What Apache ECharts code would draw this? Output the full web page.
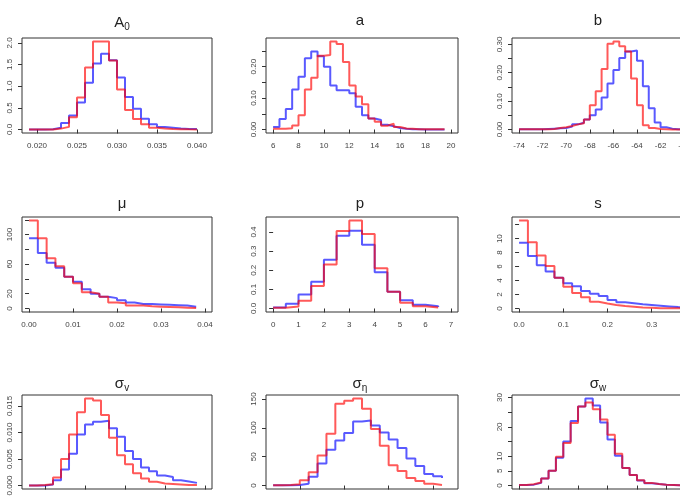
<!DOCTYPE html>
<html>
<head>
<meta charset="UTF-8">
<title>posterior histograms</title>
<script src="https://cdn.jsdelivr.net/npm/echarts@6/dist/echarts.min.js"></script>
<style>
html,body{margin:0;padding:0;background:#fff;}
#main{width:680px;height:496px;}
</style>
</head>
<body>
<div id="main"></div>
<script>
// bins: [first break, bin width, number of bins]
var a0Bins = [0.019, 0.001, 22];
var a0Blue = [0, 0, 0.005, 0.04, 0.15, 0.32, 0.62, 1.08, 1.52, 1.75, 1.6, 1.2, 0.75, 0.48, 0.25, 0.12, 0.06, 0.04, 0.02, 0.01, 0.01, 0.005];
var a0Red  = [0, 0, 0, 0.02, 0.06, 0.28, 0.74, 1.43, 2.03, 2.03, 1.59, 0.92, 0.45, 0.24, 0.12, 0.04, 0.02, 0.01, 0.005, 0.003, 0.002, 0.001];
var a0XTicks = [0.020, 0.025, 0.030, 0.035, 0.040];
var a0YTicks = [0, 0.5, 1, 1.5, 2];
var a0YLabels = [0, 0.5, 1, 1.5, 2];

var aBins = [6, 0.5, 28];
var aBlue = [0.008, 0.033, 0.065, 0.127, 0.168, 0.227, 0.248, 0.233, 0.2, 0.14, 0.125, 0.125, 0.115, 0.072, 0.045, 0.035, 0.03, 0.015, 0.01, 0.005, 0.002, 0.001, 0.001, 0, 0, 0, 0, 0];
var aRed  = [0.002, 0.002, 0.004, 0.013, 0.045, 0.127, 0.165, 0.235, 0.237, 0.28, 0.272, 0.215, 0.14, 0.105, 0.08, 0.035, 0.025, 0.012, 0.018, 0.008, 0.003, 0.002, 0.001, 0.001, 0.001, 0.001, 0.001, 0.001];
var aXTicks = [6, 8, 10, 12, 14, 16, 18, 20];
var aYTicks = [0, 0.05, 0.10, 0.15, 0.20, 0.25];
var aYLabels = [0, 0.10, 0.20];

var bBins = [-74, 0.5, 30];
var bBlue = [0.001, 0.001, 0.001, 0.001, 0.002, 0.003, 0.004, 0.005, 0.01, 0.018, 0.024, 0.035, 0.05, 0.07, 0.113, 0.162, 0.21, 0.252, 0.275, 0.278, 0.242, 0.152, 0.075, 0.025, 0.008, 0.003, 0.001, 0.001, 0, 0];
var bRed  = [0.001, 0.001, 0.001, 0.001, 0.001, 0.002, 0.005, 0.008, 0.012, 0.018, 0.022, 0.035, 0.085, 0.135, 0.213, 0.302, 0.31, 0.293, 0.275, 0.18, 0.085, 0.015, 0.005, 0.002, 0.001, 0, 0, 0, 0, 0];
var bXTicks = [-74, -72, -70, -68, -66, -64, -62, -60];
var bYTicks = [0, 0.05, 0.10, 0.15, 0.20, 0.25, 0.30];
var bYLabels = [0, 0.10, 0.20, 0.30];

var muBins = [0, 0.002, 20];
var muBlue = [95, 75, 62, 55, 43, 36, 26, 20, 16, 14, 11, 8, 6, 6, 5.5, 5, 4.5, 4, 2.5, 2];
var muRed  = [119, 95, 68, 57, 43, 34, 22, 20, 16, 8, 7, 4, 4, 3, 2.5, 2, 1.5, 1, 0.5, 0.5];
var muXTicks = [0, 0.01, 0.02, 0.03, 0.04];
var muYTicks = [0, 20, 40, 60, 80, 100, 120];
var muYLabels = [0, 20, 60, 100];

var pBins = [0, 0.5, 14];
var pBlue = [0.005, 0.025, 0.073, 0.14, 0.255, 0.38, 0.407, 0.333, 0.19, 0.088, 0.043, 0.02, 0.012, 0.008];
var pRed  = [0.004, 0.01, 0.04, 0.118, 0.23, 0.405, 0.46, 0.39, 0.21, 0.088, 0.03, 0.012, 0.005, 0.003];
var pXTicks = [0, 1, 2, 3, 4, 5, 6, 7];
var pYTicks = [0, 0.1, 0.2, 0.3, 0.4];
var pYLabels = [0, 0.1, 0.2, 0.3, 0.4];

var sBins = [0, 0.02, 20];
var sBlue = [9.4, 7.5, 6.2, 5.3, 4.4, 3.6, 3.2, 2.5, 2.1, 1.8, 1.2, 0.9, 0.75, 0.6, 0.5, 0.4, 0.3, 0.2, 0.15, 0.1];
var sRed  = [12.6, 9.5, 7.6, 6.1, 4.4, 3.1, 2.2, 1.6, 0.95, 0.7, 0.5, 0.35, 0.25, 0.15, 0.1, 0.05, 0.03, 0.02, 0.01, 0.01];
var sXTicks = [0, 0.1, 0.2, 0.3, 0.4];
var sYTicks = [0, 2, 4, 6, 8, 10, 12];
var sYLabels = [0, 2, 4, 6, 8, 10];

var svBins = [30, 10, 22];
var svBlue = [0, 0, 0.0002, 0.001, 0.003, 0.006, 0.0096, 0.0115, 0.012, 0.0122, 0.0108, 0.0092, 0.0065, 0.005, 0.0034, 0.0027, 0.0019, 0.0016, 0.001, 0.00075, 0.0005, 0.0004];
var svRed  = [0, 0.0001, 0.00025, 0.0015, 0.005, 0.0096, 0.0138, 0.0164, 0.016, 0.0133, 0.009, 0.0057, 0.004, 0.0023, 0.0013, 0.0007, 0.0004, 0.0003, 0.0002, 0.0001, 0.0001, 0.0001];
var svXTicks = [50, 100, 150, 200, 250];
var svYTicks = [0, 0.005, 0.010, 0.015];
var svYLabels = [0, 0.005, 0.010, 0.015];

var seBins = [0.002, 0.001, 20];
var seBlue = [0.5, 0.5, 1, 3, 15, 38, 62, 78, 91, 111, 113, 104, 92, 80, 65, 47, 34, 20, 16, 13];
var seRed  = [0.5, 1, 2, 9, 23, 52, 90, 142, 147, 151, 133, 98, 69, 35, 25, 13, 8, 3, 1, 0.5];
var seXTicks = [0.005, 0.010, 0.015, 0.020];
var seYTicks = [0, 50, 100, 150];
var seYLabels = [0, 50, 100, 150];

var swBins = [0.02, 0.005, 24];
var swBlue = [0.2, 0.3, 0.9, 2.4, 5, 9.5, 15, 22, 27, 29.7, 27.3, 21.5, 15.7, 10.2, 6, 3.6, 1.7, 0.8, 0.5, 0.3, 0.2, 0.1, 0.05, 0.02];
var swRed  = [0.2, 0.4, 1.0, 2.4, 5, 9.8, 14.5, 21.3, 27, 28.3, 26, 22.5, 17.3, 10.8, 6, 3.6, 1.8, 0.9, 0.5, 0.3, 0.2, 0.1, 0.05, 0.02];
var swXTicks = [0.02, 0.04, 0.06, 0.08, 0.10, 0.12, 0.14];
var swYTicks = [0, 5, 10, 15, 20, 25, 30];
var swYLabels = [0, 5, 10, 20, 30];

var panels = [
  {title: '{m|A}{s|0}', bins: a0Bins, blue: a0Blue, red: a0Red, xt: a0XTicks, xd: 3, yt: a0YTicks, yl: a0YLabels, yd: 1},
  {title: '{m|a}', bins: aBins, blue: aBlue, red: aRed, xt: aXTicks, xd: 0, yt: aYTicks, yl: aYLabels, yd: 2},
  {title: '{m|b}', bins: bBins, blue: bBlue, red: bRed, xt: bXTicks, xd: 0, yt: bYTicks, yl: bYLabels, yd: 2},
  {title: '{m|μ}', bins: muBins, blue: muBlue, red: muRed, xt: muXTicks, xd: 2, yt: muYTicks, yl: muYLabels, yd: 0},
  {title: '{m|p}', bins: pBins, blue: pBlue, red: pRed, xt: pXTicks, xd: 0, yt: pYTicks, yl: pYLabels, yd: 1},
  {title: '{m|s}', bins: sBins, blue: sBlue, red: sRed, xt: sXTicks, xd: 1, yt: sYTicks, yl: sYLabels, yd: 0},
  {title: '{m|σ}{s|v}', bins: svBins, blue: svBlue, red: svRed, xt: svXTicks, xd: 0, yt: svYTicks, yl: svYLabels, yd: 3},
  {title: '{m|σ}{s|η}', bins: seBins, blue: seBlue, red: seRed, xt: seXTicks, xd: 3, yt: seYTicks, yl: seYLabels, yd: 0},
  {title: '{m|σ}{s|w}', bins: swBins, blue: swBlue, red: swRed, xt: swXTicks, xd: 2, yt: swYTicks, yl: swYLabels, yd: 0}
];

// layout of the 3x3 plot boxes
var colLeft = [22, 266, 512];
var colWidth = [190, 192, 191];
var titleX = [117, 355, 593];
var rowTop = [38, 217, 395];
var rowHeight = [95, 95, 94];
var titleY = [8, 191, 369];

var FONT = '"Liberation Sans", Arial, sans-serif';
var grids = [], xAxes = [], yAxes = [], series = [], titles = [];

panels.forEach(function (p, i) {
  var r = Math.floor(i / 3), c = i % 3;
  var start = p.bins[0], w = p.bins[1], n = p.bins[2];
  var lo = start, hi = start + w * n;
  var ext = (hi - lo) * 0.04;
  var ymax = Math.max(Math.max.apply(null, p.blue), Math.max.apply(null, p.red));

  grids.push({left: colLeft[c], top: rowTop[r], width: colWidth[c], height: rowHeight[r],
    show: true, borderColor: '#333', borderWidth: 1, backgroundColor: 'transparent', outerBoundsMode: 'none'});

  xAxes.push({gridIndex: i, type: 'value', min: lo - ext, max: hi + ext,
    axisLine: {show: false}, splitLine: {show: false},
    axisTick: {show: true, customValues: p.xt, length: 4, lineStyle: {color: '#333'}},
    axisLabel: {customValues: p.xt, margin: 9, fontSize: 8, color: '#444', fontFamily: FONT,
      formatter: (function (d) { return function (v) { return v.toFixed(d); }; })(p.xd)}});

  yAxes.push({gridIndex: i, type: 'value', min: -0.04 * ymax, max: 1.04 * ymax,
    axisLine: {show: false}, splitLine: {show: false},
    axisTick: {show: true, customValues: p.yt, length: 4, lineStyle: {color: '#333'}},
    axisLabel: {customValues: p.yl, rotate: 90, margin: 8, fontSize: 8, color: '#444', fontFamily: FONT,
      formatter: (function (d) { return function (v) { return v.toFixed(d); }; })(p.yd)}});

  function pts(vals) {
    return vals.map(function (v, k) { return [start + k * w, v]; });
  }
  series.push({type: 'line', step: 'end', xAxisIndex: i, yAxisIndex: i, data: pts(p.blue),
    showSymbol: false, silent: true, lineStyle: {color: 'rgba(0,0,255,0.65)', width: 2}});
  series.push({type: 'line', step: 'end', xAxisIndex: i, yAxisIndex: i, data: pts(p.red),
    showSymbol: false, silent: true, lineStyle: {color: 'rgba(255,0,0,0.65)', width: 2}});

  titles.push({text: p.title, left: titleX[c], top: titleY[r], textAlign: 'center',
    textStyle: {fontWeight: 'normal', rich: {
      m: {fontSize: 15, fontWeight: 'normal', color: '#222', fontFamily: FONT},
      s: {fontSize: 10, fontWeight: 'normal', color: '#222', fontFamily: FONT, padding: [9, 0, 0, 0]}
    }}});
});

var chart = echarts.init(document.getElementById('main'), null, {renderer: 'canvas'});
chart.setOption({
  animation: false,
  backgroundColor: '#fff',
  title: titles,
  grid: grids,
  xAxis: xAxes,
  yAxis: yAxes,
  series: series
});
</script>
</body>
</html>
